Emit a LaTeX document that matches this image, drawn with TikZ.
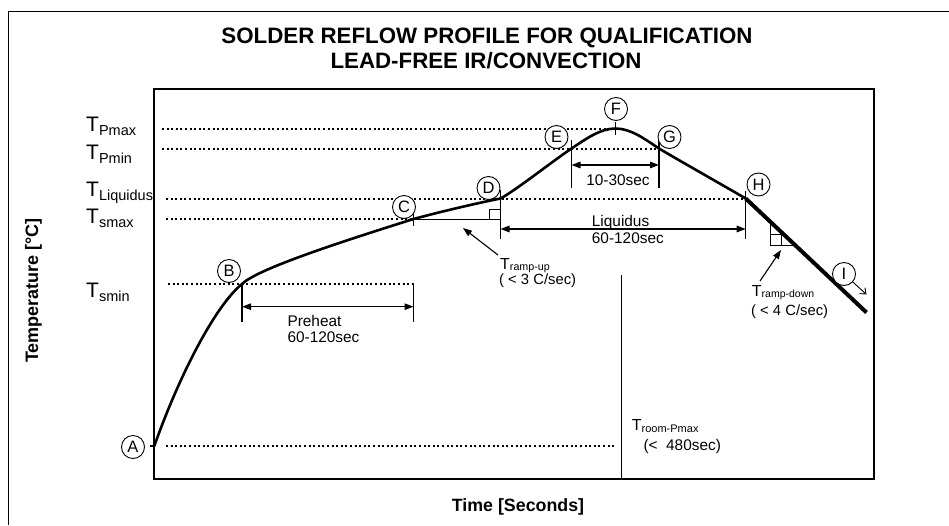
\documentclass[tikz,border=0pt]{standalone}
\usepackage{fontspec}
\setmainfont{Liberation Sans}
\usetikzlibrary{arrows.meta,calc}
\newcommand\fsz[1]{\fontsize{#1}{#1}\selectfont}
\begin{document}
\begin{tikzpicture}[x=1pt,y=-1pt,
  lbl/.style={circle,draw,fill=white,line width=0.9pt,minimum size=23pt,inner sep=0pt,font=\fsz{16.5}},
  txt/.style={anchor=base west,inner sep=0pt,font=\fsz{15.4}},
  ctxt/.style={anchor=base,inner sep=0pt,font=\fsz{15.4}},
  dots/.style={line width=2pt,dash pattern=on 2pt off 2.6pt},
  tickln/.style={line width=1.1pt},
  thin/.style={line width=0.9pt},
  dim/.style={line width=1.2pt,{Triangle[length=9pt,width=6.5pt]}-{Triangle[length=9pt,width=6.5pt]}},
  onearrow/.style={line width=1.1pt,-{Triangle[length=9pt,width=6.5pt]}},
  curve/.style={line width=2.6pt,line join=round,line cap=round}]
\useasboundingbox (0,0) rectangle (949,525);
\fill[white] (0,0) rectangle (949,525);
% outer frame
\coordinate (frBL) at (8.5,525);
\coordinate (frTL) at (8.5,11.5);
\coordinate (frTR) at (949,11.5);
\draw[line width=1.3pt] (frBL) -- (frTL) -- (frTR);
% title
\node[anchor=base,inner sep=0pt,font=\bfseries\fsz{22.3}] (title1) at (487,43.5) {SOLDER REFLOW PROFILE FOR QUALIFICATION};
\node[anchor=base,inner sep=0pt,font=\bfseries\fsz{22.3}] (title2) at (486,68.5) {LEAD-FREE IR/CONVECTION};
% plot box
\coordinate (boxNW) at (154.3,89.3);
\coordinate (boxSE) at (874.3,479.3);
\draw[line width=2.2pt] (boxNW) rectangle (boxSE);
% axis labels
\node[rotate=90,anchor=base,inner sep=0pt,font=\bfseries\fsz{18}] (ylab) at (38,290.5) {Temperature [°C]};
\node[anchor=base,inner sep=0pt,font=\bfseries\fsz{17.8}] (xlab) at (518,511) {Time [Seconds]};
% y labels
\node[txt] (lPmax) at (86,131) {{\fsz{21}T}{\fsz{14.5}\raisebox{-4.5pt}{Pmax}}};
\node[txt] (lPmin) at (86,159) {{\fsz{21}T}{\fsz{14.5}\raisebox{-4.5pt}{Pmin}}};
\node[txt] (lLiq) at (86,196) {{\fsz{21}T}{\fsz{14.5}\raisebox{-4.5pt}{Liquidus}}};
\node[txt] (lsmax) at (86,223) {{\fsz{21}T}{\fsz{14.5}\raisebox{-4.5pt}{smax}}};
\node[txt] (lsmin) at (86,297) {{\fsz{21}T}{\fsz{14.5}\raisebox{-4.5pt}{smin}}};
% key points on the curve
\coordinate (pA) at (154.3,446);
\coordinate (pB) at (242,284);
\coordinate (pC) at (413.5,219);
\coordinate (pD) at (500.5,198.5);
\coordinate (pE) at (571.5,148.5);
\coordinate (pF) at (615.5,128.5);
\coordinate (pG) at (659,148.5);
\coordinate (pH) at (745.7,198.5);
\coordinate (pI) at (866.5,312.5);
% dotted levels
\coordinate (dPmax) at (162,128.5);
\coordinate (dPmin) at (162,148.5);
\coordinate (dLiq) at (166,198.5);
\coordinate (dsmax) at (166,219);
\coordinate (dsmin) at (168,284);
\coordinate (dA0) at (166,446);
\coordinate (dA1) at (614,446);
\coordinate (dsminE) at (413.5,284);
\draw[dots] (dPmax) -- (pF);
\draw[dots] (dPmin) -- (pG);
\draw[dots] (dLiq) -- (pH);
\draw[dots] (dsmax) -- (pC);
\draw[dots] (dsmin) -- (dsminE);
\draw[dots] (dA0) -- (dA1);
% A tick
\coordinate (tA0) at (150,446);
\draw[tickln] (tA0) -- (pA);
% preheat
\coordinate (pre1) at (242,321.7);
\coordinate (pre2) at (413.5,321.7);
\draw[tickln] (pB) -- (pre1);
\draw[tickln] (dsminE) -- (pre2);
\coordinate (preL) at (242,306.7);
\coordinate (preR) at (413.5,306.7);
\draw[dim] (preL) -- (preR);
\node[txt] (tPre) at (287.3,326.7) {Preheat};
\node[txt] (tPre2) at (287.3,342.7) {60-120sec};
% C tick and ramp-up
\coordinate (cT0) at (413.5,213);
\coordinate (cT1) at (413.5,226);
\draw[tickln] (cT0) -- (cT1);
\coordinate (ruR) at (500.5,219.5);
\coordinate (ruL) at (413.5,219.5);
\draw[thin] (ruL) -- (ruR);
\coordinate (sqA) at (489.5,209);
\draw[thin] (sqA) rectangle (ruR);
\coordinate (dV0) at (500.5,190);
\coordinate (dV1) at (500.5,239);
\draw[tickln] (dV0) -- (dV1);
\coordinate (ruArr0) at (498,255);
\coordinate (ruArr1) at (463,228);
\draw[onearrow] (ruArr0) -- (ruArr1);
\node[txt] (tRu) at (500,269) {{\fsz{16}T}{\fsz{10.7}\raisebox{-1pt}{ramp-up}}};
\node[txt,font=\fsz{14.8}] (tRu2) at (499,284.5) {( < 3 C/sec)};
% liquidus
\coordinate (hV0) at (745.7,191);
\coordinate (hV1) at (745.7,239);
\draw[tickln] (hV0) -- (hV1);
\coordinate (lqL) at (500.5,229);
\coordinate (lqR) at (745.7,229);
\draw[dim] (lqL) -- (lqR);
\node[txt] (tLq) at (591.7,226.7) {Liquidus};
\node[txt] (tLq2) at (591.7,243.3) {60-120sec};
% 10-30 sec
\coordinate (eV0) at (571.5,140);
\coordinate (eV1) at (571.5,187.5);
\coordinate (gV0) at (659,140);
\coordinate (gV1) at (659,187.5);
\draw[tickln] (eV0) -- (eV1);
\draw[tickln] (gV0) -- (gV1);
\coordinate (tsL) at (571.5,165);
\coordinate (tsR) at (659,165);
\draw[dim] (tsL) -- (tsR);
\node[ctxt] (tTs) at (618,185.7) {10-30sec};
% F tick
\coordinate (fT0) at (615.5,122);
\coordinate (fT1) at (615.5,135);
\draw[tickln] (fT0) -- (fT1);
% room line
\coordinate (rm0) at (621.7,275);
\coordinate (rm1) at (621.7,479.3);
\draw[thin] (rm0) -- (rm1);
\node[txt] (tRm) at (631.7,430) {{\fsz{16}T}{\fsz{11}\raisebox{-2pt}{room-Pmax}}};
\node[txt] (tRm2) at (643.3,450) {(<~~480sec)};
% curve
\draw[curve] (pA) .. controls (179,376) and (215,306) .. (pB)
  .. controls (258,268) and (353.5,238) .. (pC)
  .. controls (443.5,211) and (475.5,203.5) .. (pD)
  .. controls (515.5,190.5) and (553.5,160.5) .. (pE)
  .. controls (586.5,138.5) and (600.5,128.5) .. (pF)
  .. controls (630.5,128.5) and (644,138.5) .. (pG)
  .. controls (674,157.5) and (720.7,184) .. (pH);
\draw[line width=4pt,line cap=butt] (pH) -- (pI);
% ramp-down triangle
\coordinate (rdTop) at ($(pH)!0.205!(pI)$);
\coordinate (rdRight) at ($(pH)!0.415!(pI)$);
\coordinate (rdCorner) at (rdTop |- rdRight);
\draw[thin] (rdTop) -- (rdCorner) -- (rdRight);
\coordinate (rdSq) at ($(rdCorner)+(11,-11)$);
\draw[thin] (rdCorner) rectangle (rdSq);
\coordinate (rdArr0) at (760,281);
\coordinate (rdArr1) at (781,250);
\draw[onearrow] (rdArr0) -- (rdArr1);
\node[txt] (tRd) at (751.7,296.5) {{\fsz{16}T}{\fsz{10.5}\raisebox{-1pt}{ramp-down}}};
\node[txt,font=\fsz{14.8}] (tRd2) at (751,315.5) {( < 4 C/sec)};
% circle labels
\node[lbl] (cA) at (133,447) {A};
\node[lbl] (cB) at (229,271) {B};
\node[lbl] (cC) at (404,207) {C};
\node[lbl] (cD) at (488.5,188) {D};
\node[lbl] (cE) at (556.5,137) {E};
\node[lbl] (cF) at (616,109) {F};
\node[lbl] (cG) at (669.5,137) {G};
\node[lbl] (cH) at (758.5,184.5) {H};
\node[lbl] (cI) at (844,274) {I};
\coordinate (iArr) at (866.5,294.5);
\draw[line width=0.9pt,-{Straight Barb[length=5pt,width=8pt]}] (cI) -- (iArr);
\end{tikzpicture}
\end{document}
